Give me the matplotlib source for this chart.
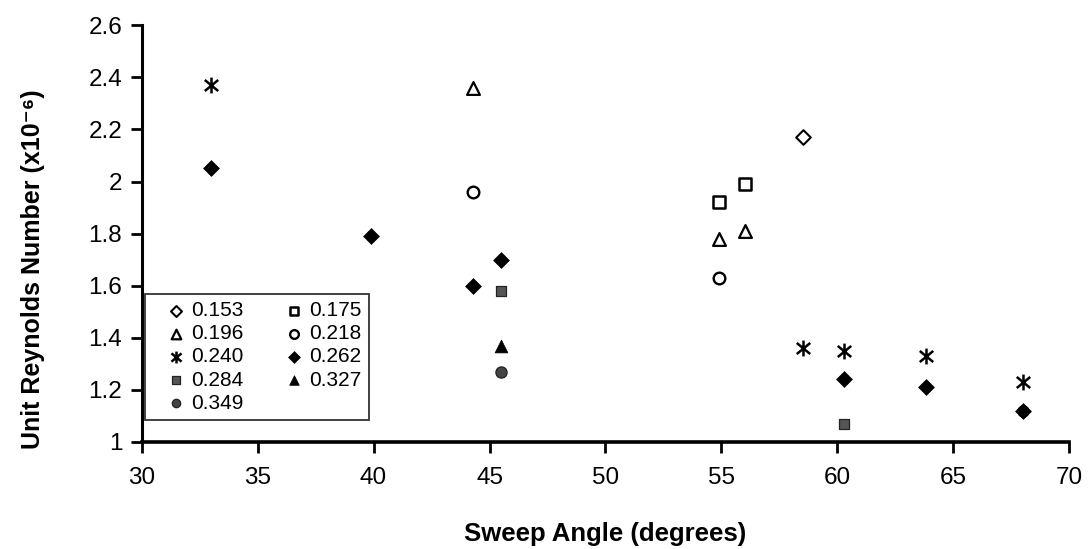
import numpy as np
import matplotlib
matplotlib.use("Agg")
import matplotlib.pyplot as plt
from matplotlib.path import Path

plt.rcParams["font.family"] = ["Liberation Sans", "DejaVu Sans"]

# =========================
# DATA
# =========================
x_153 = [58.5]
y_153 = [2.17]

x_175 = [54.9, 56.0]
y_175 = [1.92, 1.99]

x_196 = [44.3, 54.9, 56.0]
y_196 = [2.36, 1.78, 1.81]

x_218 = [44.3, 54.9]
y_218 = [1.96, 1.63]

x_240 = [33.0, 58.5, 60.3, 63.8, 68.0]
y_240 = [2.37, 1.36, 1.35, 1.33, 1.23]

x_262 = [33.0, 39.9, 44.3, 45.5, 60.3, 63.8, 68.0]
y_262 = [2.05, 1.79, 1.60, 1.70, 1.24, 1.21, 1.12]

x_284 = [45.5, 60.3]
y_284 = [1.58, 1.07]

x_327 = [45.5]
y_327 = [1.37]

x_349 = [45.5, 68.0]
y_349 = [1.27, 1.12]

# asterisk marker: vertical bar plus an X
star = Path(
    [(0, -1), (0, 1), (-0.85, -0.7), (0.85, 0.7), (-0.85, 0.7), (0.85, -0.7)],
    [Path.MOVETO, Path.LINETO, Path.MOVETO, Path.LINETO, Path.MOVETO, Path.LINETO],
)

series = [
    ("0.153", x_153, y_153, dict(marker="D", s=55, facecolors="white", edgecolors="black", linewidths=1.5)),
    ("0.175", x_175, y_175, dict(marker="s", s=70, facecolors="white", edgecolors="black", linewidths=1.8)),
    ("0.196", x_196, y_196, dict(marker="^", s=85, facecolors="white", edgecolors="black", linewidths=1.6)),
    ("0.218", x_218, y_218, dict(marker="o", s=70, facecolors="white", edgecolors="black", linewidths=1.7)),
    ("0.240", x_240, y_240, dict(marker=star, s=130, color="black", linewidths=1.8)),
    ("0.262", x_262, y_262, dict(marker="D", s=65, color="black", linewidths=0.5, zorder=4)),
    ("0.284", x_284, y_284, dict(marker="s", s=60, facecolors="#555555", edgecolors="#222222", linewidths=0.9)),
    ("0.327", x_327, y_327, dict(marker="^", s=85, color="black", linewidths=0.5)),
    ("0.349", x_349, y_349, dict(marker="o", s=65, facecolors="#444444", edgecolors="#222222", linewidths=0.9)),
]

fig = plt.figure(figsize=(10.89, 5.49), dpi=100)
ax = fig.add_axes([0.130, 0.195, 0.852, 0.759])

handles = {}
for label, xs, ys, style in series:
    style = dict(style)
    z = style.pop("zorder", 3)
    handles[label] = ax.scatter(xs, ys, label=label, zorder=z, **style)

ax.set_xlim(30, 70)
ax.set_ylim(1, 2.6)
ax.set_xticks(np.arange(30, 71, 5))
ax.set_yticks(np.arange(1.0, 2.61, 0.2))
ax.set_yticklabels(["1", "1.2", "1.4", "1.6", "1.8", "2", "2.2", "2.4", "2.6"])

ax.spines["top"].set_visible(False)
ax.spines["right"].set_visible(False)
ax.spines["left"].set_linewidth(2.2)
ax.spines["bottom"].set_linewidth(2.6)
ax.tick_params(direction="out", length=8, width=2, labelsize=17.5)
ax.tick_params(axis="x", pad=10)
ax.tick_params(axis="y", pad=6)

# axis titles
fig.text(0.5 * (0.130 + 0.982), 1 - 541 / 549, "Sweep Angle (degrees)",
         fontsize=18.5, fontweight="bold", ha="center", va="baseline")
ax.set_ylabel("Unit Reynolds Number (x10\u207b\u2076)", fontsize=18, fontweight="bold")
ax.yaxis.set_label_coords(-0.104, 0.415)

# legend order: column-wise fill to mimic row layout of the original
order = ["0.153", "0.196", "0.240", "0.284", "0.349", "0.175", "0.218", "0.262", "0.327"]
leg = ax.legend(
    [handles[k] for k in order],
    order,
    ncol=2,
    loc="lower left",
    bbox_to_anchor=(0.004, 0.052),
    fontsize=15,
    frameon=True,
    fancybox=False,
    edgecolor="black",
    handletextpad=-0.35,
    handlelength=2.2,
    columnspacing=1.3,
    labelspacing=0.2,
    borderpad=0.36,
    borderaxespad=0,
    scatterpoints=1,
    markerscale=0.75,
)
leg.get_frame().set_linewidth(1.3)

plt.savefig("out.png", dpi=100)
plt.close()
